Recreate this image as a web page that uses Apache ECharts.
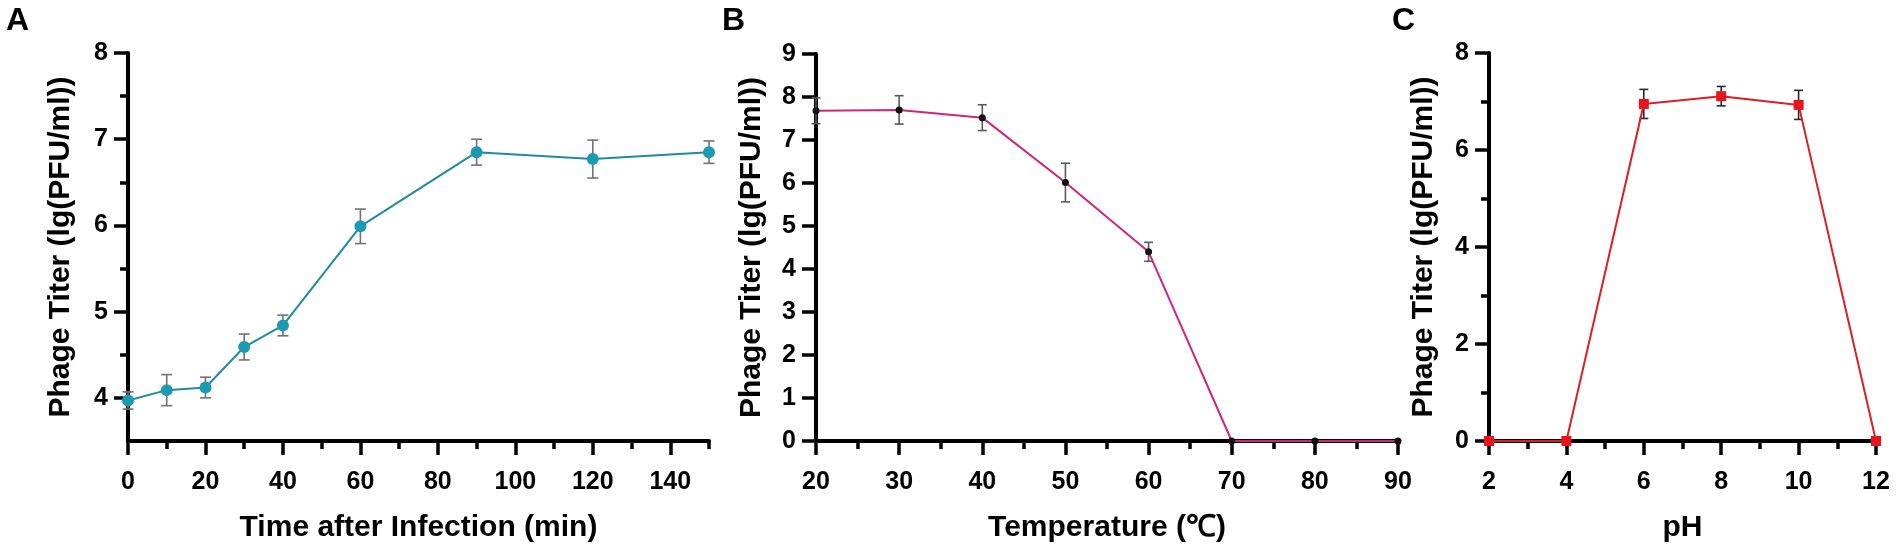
<!DOCTYPE html>
<html><head><meta charset="utf-8">
<script src="https://cdn.jsdelivr.net/npm/echarts@6/dist/echarts.min.js"></script>
<style>html,body{margin:0;padding:0;background:#fff}#c{width:1902px;height:553px}</style>
</head><body><div id="c"></div>
<script>
// ---- data ----
const timeMin = [0, 10, 20, 30, 40, 60, 90, 120, 150];
const titerTime = [3.97, 4.09, 4.12, 4.59, 4.84, 5.99, 6.85, 6.77, 6.85];
const errTime = [0.10, 0.18, 0.12, 0.15, 0.12, 0.20, 0.15, 0.22, 0.13];

const tempC = [20, 30, 40, 50, 60, 70, 80, 90];
const titerTemp = [7.68, 7.70, 7.52, 6.01, 4.40, 0, 0, 0];
const errTemp = [0.30, 0.33, 0.30, 0.45, 0.22, 0, 0, 0];

const pHs = [2, 4, 6, 8, 10, 12];
const titerPH = [0, 0, 6.95, 7.11, 6.93, 0];
const errPH = [0, 0, 0.30, 0.20, 0.30, 0];

const timeMajorTicks = [0, 20, 40, 60, 80, 100, 120, 140];
const timeMinorTicks = [10, 30, 50, 70, 90, 110, 130, 150];
const titerAMajorTicks = [4, 5, 6, 7, 8];
const titerAMinorTicks = [4.5, 5.5, 6.5, 7.5];

const yTitle = 'Phage Titer (lg(PFU/ml))';
const xTitleA = 'Time after Infection (min)';
const xTitleB = 'Temperature (\u2103)';
const xTitleC = 'pH';
const panelLetters = ['A', 'B', 'C'];

// ---- styles ----
const FONT = 'Liberation Sans, Arial, sans-serif';
const AXIS_W = 4;
const TICK_W = 3.5;
const labelStyle = { fontSize: 25, fontWeight: 'bold', color: '#000', fontFamily: FONT };
const nameStyle = { fontSize: 30, fontWeight: 'bold', color: '#000', fontFamily: FONT };

function pairs(xs, ys) { return xs.map((x, i) => [x, ys[i]]); }
function triples(xs, ys, es) { return xs.map((x, i) => [x, ys[i], es[i]]); }

function errBar(color, cap) {
  return function (params, api) {
    const x = api.value(0), y = api.value(1), e = api.value(2);
    if (!e) return null;
    const t = api.coord([x, y + e]), b = api.coord([x, y - e]);
    const st = { stroke: color, lineWidth: 1.6 };
    return { type: 'group', children: [
      { type: 'line', shape: { x1: t[0], y1: t[1], x2: b[0], y2: b[1] }, style: st },
      { type: 'line', shape: { x1: t[0] - cap, y1: t[1], x2: t[0] + cap, y2: t[1] }, style: st },
      { type: 'line', shape: { x1: b[0] - cap, y1: b[1], x2: b[0] + cap, y2: b[1] }, style: st }
    ]};
  };
}

function mainX(grid, min, max, opts) {
  return Object.assign({
    type: 'value', gridIndex: grid, min: min, max: max, position: 'bottom',
    name: '', nameLocation: 'middle', nameGap: 72, nameTextStyle: nameStyle,
    axisLine: { show: true, onZero: false, lineStyle: { color: '#000', width: AXIS_W } },
    axisTick: { show: true, length: 14, lineStyle: { color: '#000', width: TICK_W } },
    axisLabel: Object.assign({ margin: 29 }, labelStyle),
    splitLine: { show: false }
  }, opts);
}
function mainY(grid, min, max, opts) {
  return Object.assign({
    type: 'value', gridIndex: grid, min: min, max: max, position: 'left',
    name: yTitle, nameLocation: 'middle', nameGap: 51, nameRotate: 90, nameTextStyle: nameStyle,
    axisLine: { show: true, onZero: false, lineStyle: { color: '#000', width: AXIS_W } },
    axisTick: { show: true, length: 14, lineStyle: { color: '#000', width: TICK_W } },
    axisLabel: Object.assign({ margin: 20 }, labelStyle),
    splitLine: { show: false }
  }, opts);
}
const minor = { show: true, splitNumber: 2, length: 8, lineStyle: { color: '#000', width: TICK_W } };

const option = {
  animation: false,
  backgroundColor: '#fff',
  graphic: [
    { type: 'text', left: 6, top: 5, style: { text: panelLetters[0], font: 'bold 32px ' + FONT, fill: '#000' } },
    { type: 'text', left: 722, top: 5, style: { text: panelLetters[1], font: 'bold 32px ' + FONT, fill: '#000' } },
    { type: 'text', left: 1392, top: 5, style: { text: panelLetters[2], font: 'bold 32px ' + FONT, fill: '#000' } }
  ],
  grid: [
    { left: 128, top: 53, width: 581, height: 388 },
    { left: 128, top: 53, width: 581, height: 388 },
    { left: 816, top: 54, width: 582, height: 387 },
    { left: 1489, top: 53, width: 387, height: 388 }
  ],
  xAxis: [
    mainX(0, 0, 150, {
      name: xTitleA,
      axisTick: { show: true, length: 14, customValues: timeMajorTicks, lineStyle: { color: '#000', width: TICK_W } },
      axisLabel: Object.assign({ margin: 29, customValues: timeMajorTicks }, labelStyle)
    }),
    { type: 'value', gridIndex: 1, min: 0, max: 150, position: 'bottom',
      axisLine: { show: false }, axisLabel: { show: false }, splitLine: { show: false },
      axisTick: { show: true, length: 8, customValues: timeMinorTicks, lineStyle: { color: '#000', width: TICK_W } } },
    mainX(2, 20, 90, { name: xTitleB, interval: 10, minorTick: minor }),
    mainX(3, 2, 12, { name: xTitleC, interval: 2, minorTick: minor })
  ],
  yAxis: [
    mainY(0, 3.5, 8, {
      nameGap: 52,
      axisTick: { show: true, length: 14, customValues: titerAMajorTicks, lineStyle: { color: '#000', width: TICK_W } },
      axisLabel: Object.assign({ margin: 20, customValues: titerAMajorTicks }, labelStyle)
    }),
    { type: 'value', gridIndex: 1, min: 3.5, max: 8, position: 'left',
      axisLine: { show: false }, axisLabel: { show: false }, splitLine: { show: false },
      axisTick: { show: true, length: 8, customValues: titerAMinorTicks, lineStyle: { color: '#000', width: TICK_W } } },
    mainY(2, 0, 9, { interval: 1, nameGap: 49 }),
    mainY(3, 0, 8, { interval: 2, nameGap: 50, minorTick: minor })
  ],
  series: [
    { type: 'custom', xAxisIndex: 0, yAxisIndex: 0, z: 3, renderItem: errBar('#727272', 5.5),
      data: triples(timeMin, titerTime, errTime), encode: { x: 0, y: 1 } },
    { type: 'line', xAxisIndex: 0, yAxisIndex: 0, z: 4, data: pairs(timeMin, titerTime),
      symbol: 'circle', symbolSize: 12, showSymbol: true,
      itemStyle: { color: '#1a9bb2' }, lineStyle: { color: '#1e8c9e', width: 2 } },

    { type: 'custom', xAxisIndex: 2, yAxisIndex: 2, z: 3, renderItem: errBar('#5a5a5a', 4.5),
      data: triples(tempC, titerTemp, errTemp), encode: { x: 0, y: 1 } },
    { type: 'line', xAxisIndex: 2, yAxisIndex: 2, z: 4, data: pairs(tempC, titerTemp),
      symbol: 'circle', symbolSize: 7, showSymbol: true,
      itemStyle: { color: '#111' }, lineStyle: { color: '#d0257a', width: 2 } },

    { type: 'custom', xAxisIndex: 3, yAxisIndex: 3, z: 3, renderItem: errBar('#2a2a2a', 4.5),
      data: triples(pHs, titerPH, errPH), encode: { x: 0, y: 1 } },
    { type: 'line', xAxisIndex: 3, yAxisIndex: 3, z: 4, data: pairs(pHs, titerPH),
      symbol: 'rect', symbolSize: 10, showSymbol: true,
      itemStyle: { color: '#e8141b' }, lineStyle: { color: '#dc1e22', width: 2 } }
  ]
};

const chart = echarts.init(document.getElementById('c'), null, { renderer: 'canvas' });
chart.setOption(option);
</script>
</body></html>
